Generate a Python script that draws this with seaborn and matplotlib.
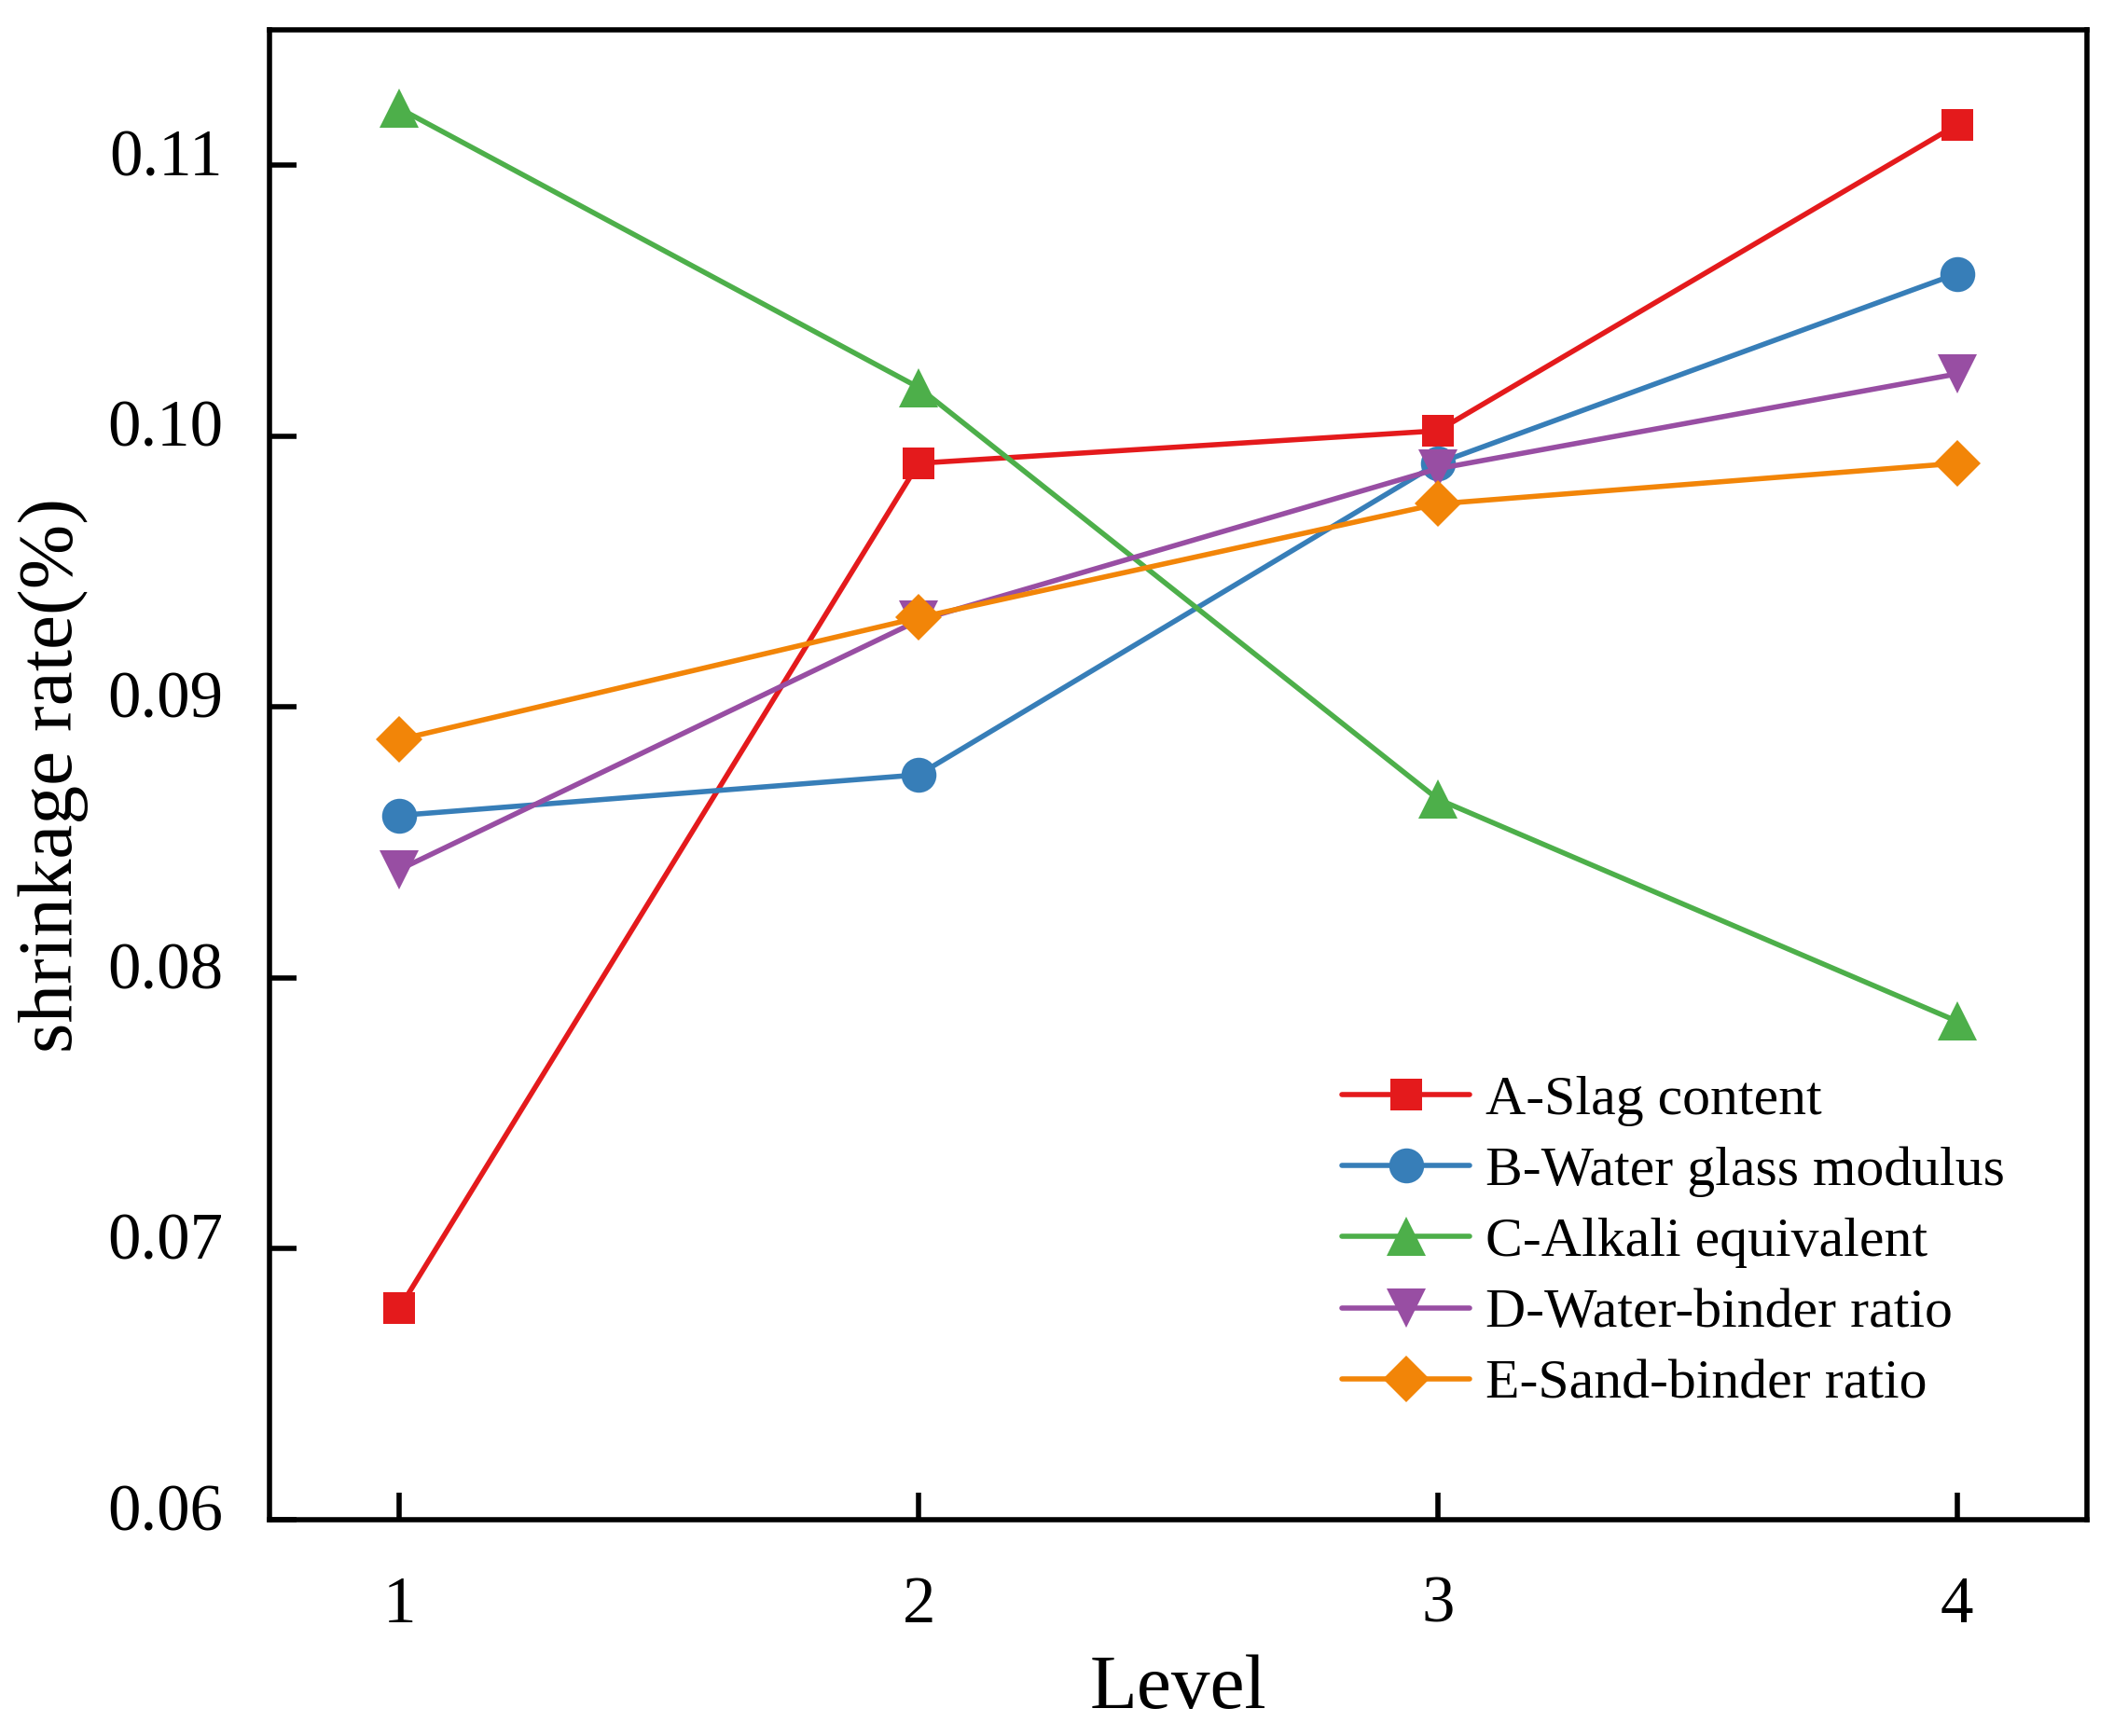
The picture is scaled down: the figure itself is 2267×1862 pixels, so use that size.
import matplotlib
matplotlib.use("Agg")
import matplotlib.pyplot as plt
import matplotlib.transforms as mtransforms
import seaborn as sns
import pandas as pd
from matplotlib.ticker import FormatStrFormatter

levels = [1, 2, 3, 4]
series_names = ["A-Slag content", "B-Water glass modulus", "C-Alkali equivalent",
                "D-Water-binder ratio", "E-Sand-binder ratio"]
a_slag = [0.0678, 0.0990, 0.1002, 0.1115]
b_water_glass = [0.0860, 0.0875, 0.0990, 0.1060]
c_alkali = [0.1121, 0.1018, 0.0866, 0.0784]
d_water_binder = [0.0840, 0.0932, 0.0988, 0.1023]
e_sand_binder = [0.0888, 0.0933, 0.0975, 0.0990]
all_values = [a_slag, b_water_glass, c_alkali, d_water_binder, e_sand_binder]

y_ticks = [0.06, 0.07, 0.08, 0.09, 0.10, 0.11]

colors = ["#E41A1C", "#377EB8", "#4DAF4A", "#984EA3", "#F28508"]
markers = ["s", "o", "^", "v", "D"]
msizes = [25, 27, 30, 30, 25]

sns.set_style("ticks")
plt.rcParams["font.family"] = ["Liberation Serif", "DejaVu Serif"]
plt.rcParams["text.color"] = "black"
plt.rcParams["axes.labelcolor"] = "black"
plt.rcParams["xtick.color"] = "black"
plt.rcParams["ytick.color"] = "black"

rows = []
for name, vals in zip(series_names, all_values):
    for lv, v in zip(levels, vals):
        rows.append({"Level": lv, "value": v, "series": name})
df = pd.DataFrame(rows)

fig = plt.figure(figsize=(22.67, 18.62), dpi=100)
ax = fig.add_axes([0.1275, 0.1246, 0.8597, 0.8582])

for name, c, m, ms in zip(series_names, colors, markers, msizes):
    sub = df[df["series"] == name]
    sns.lineplot(data=sub, x="Level", y="value", ax=ax, color=c, marker=m,
                 markersize=ms, markeredgewidth=0, linewidth=4, label=name,
                 estimator=None, sort=False)

ax.set_xlim(0.75, 4.25)
ax.set_ylim(0.06, 0.115)
ax.set_xticks(levels)
ax.set_yticks(y_ticks)
ax.yaxis.set_major_formatter(FormatStrFormatter("%.2f"))

for sp in ax.spines.values():
    sp.set_visible(True)
    sp.set_linewidth(4)
    sp.set_color("black")

ax.tick_params(axis="both", direction="in", length=21, width=4, colors="black",
               labelcolor="black", labelsize=51, top=False, right=False)
ax.tick_params(axis="x", pad=43)
ax.tick_params(axis="y", pad=36)

# reference y tick labels sit slightly above their ticks
offset = mtransforms.ScaledTranslation(0, 10 / 72, fig.dpi_scale_trans)
for lab in ax.get_yticklabels():
    lab.set_transform(lab.get_transform() + offset)

ax.set_xlabel("Level", fontsize=60, labelpad=14, color="black")
ax.set_ylabel("shrinkage rate(%)", fontsize=60, labelpad=14, color="black")

leg = ax.legend(loc="center left", bbox_to_anchor=(0.590, 0.186), frameon=False,
                fontsize=43, handlelength=2.3, handletextpad=0.28, labelspacing=0.36,
                borderaxespad=0, borderpad=0)
for t in leg.get_texts():
    t.set_color("black")

fig.savefig("out.png", dpi=100)
